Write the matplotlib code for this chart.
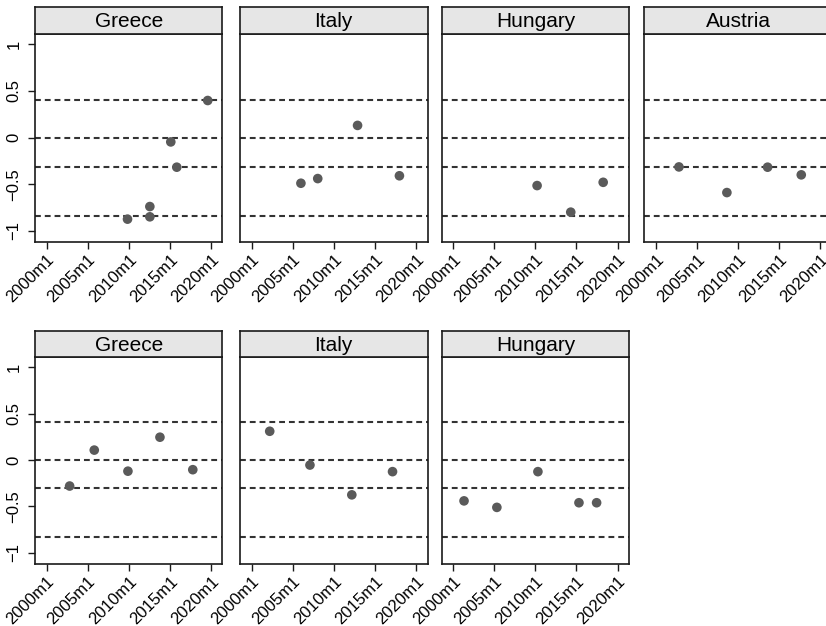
## small multiples: dot plots by country, two rows, dashed reference lines

import numpy as np
import matplotlib.pyplot as plt

plt.rcParams['font.family'] = ['Liberation Sans', 'DejaVu Sans']

######################################
## top row
top_names = ["Greece", "Italy", "Hungary", "Austria"]
top_x = [
    [2009.85, 2012.57, 2012.57, 2015.12, 2015.85, 2019.62],
    [2006.0, 2008.05, 2012.9, 2018.0],
    [2010.2, 2014.3, 2018.25],
    [2002.8, 2008.64, 2013.6, 2017.7],
]
top_y = [
    [-0.875, -0.74, -0.85, -0.047, -0.318, 0.397],
    [-0.49, -0.44, 0.13, -0.41],
    [-0.515, -0.80, -0.48],
    [-0.315, -0.59, -0.318, -0.40],
]
top_lines = [0.40, 0.0, -0.32, -0.845]

## bottom row
bot_names = ["Greece", "Italy", "Hungary"]
bot_x = [
    [2002.8, 2005.8, 2009.9, 2013.8, 2017.8],
    [2002.2, 2007.1, 2012.2, 2017.16],
    [2001.3, 2005.3, 2010.3, 2015.3, 2017.45],
]
bot_y = [
    [-0.28, 0.107, -0.12, 0.246, -0.104],
    [0.31, -0.054, -0.375, -0.125],
    [-0.44, -0.51, -0.125, -0.46, -0.46],
]
bot_lines = [0.41, 0.0, -0.30, -0.83]

xticks = [2000, 2005, 2010, 2015, 2020]
xticklabels = ["2000m1", "2005m1", "2010m1", "2015m1", "2020m1"]
yticks = [1, 0.5, 0, -0.5, -1]
yticklabels = ["1", "0.5", "0", "\u22120.5", "\u22121"]

######################################
W, H = 826, 626
fig = plt.figure(figsize=(W / 100, H / 100), dpi=100)

col_left = [35, 240, 441.7, 644.3]
panel_w = 187.5
frame_col = "#1a1a1a"


def add_panel(left, top, bottom, strip_top, name, xs, ys, lines, first):
    ax = fig.add_axes([left / W, (H - bottom) / H, panel_w / W, (bottom - top) / H])
    for v in lines:
        ax.axhline(v, color="#333333", lw=1.5, dashes=(2.8, 1.9), zorder=1)
    ax.scatter(xs, ys, s=48, color="#5a5a5a", edgecolors="none", zorder=3)
    ax.set_xlim(1998.58, 2021.42)
    ax.set_ylim(-1.12, 1.11)
    ax.set_xticks(xticks)
    ax.set_xticklabels(xticklabels, rotation=45, ha="right", va="top",
                       rotation_mode="anchor", fontsize=12)
    ax.set_yticks(yticks)
    ax.tick_params(axis="both", direction="out", length=4.8, width=1.0,
                   color=frame_col, pad=2)
    if first:
        ax.set_yticklabels(yticklabels, rotation=90, va="center", fontsize=12)
        ax.tick_params(axis="y", pad=5)
    else:
        ax.set_yticklabels([])
        ax.tick_params(axis="y", length=0)
    for sp in ax.spines.values():
        sp.set_color(frame_col)
        sp.set_linewidth(1.2)

    sx = fig.add_axes([left / W, (H - top) / H, panel_w / W, (top - strip_top) / H])
    sx.set_facecolor("#e6e6e6")
    sx.set_xticks([])
    sx.set_yticks([])
    for sp in sx.spines.values():
        sp.set_color(frame_col)
        sp.set_linewidth(1.2)
    sx.text(0.5, 0.45, name, ha="center", va="center", fontsize=15,
            transform=sx.transAxes)
    return ax


for i in range(len(top_names)):
    add_panel(col_left[i], 34, 242, 7, top_names[i], top_x[i], top_y[i],
              top_lines, i == 0)

for i in range(len(bot_names)):
    add_panel(col_left[i], 357, 564, 330.5, bot_names[i], bot_x[i], bot_y[i],
              bot_lines, i == 0)

fig.savefig("out.png", dpi=100)
plt.close()
